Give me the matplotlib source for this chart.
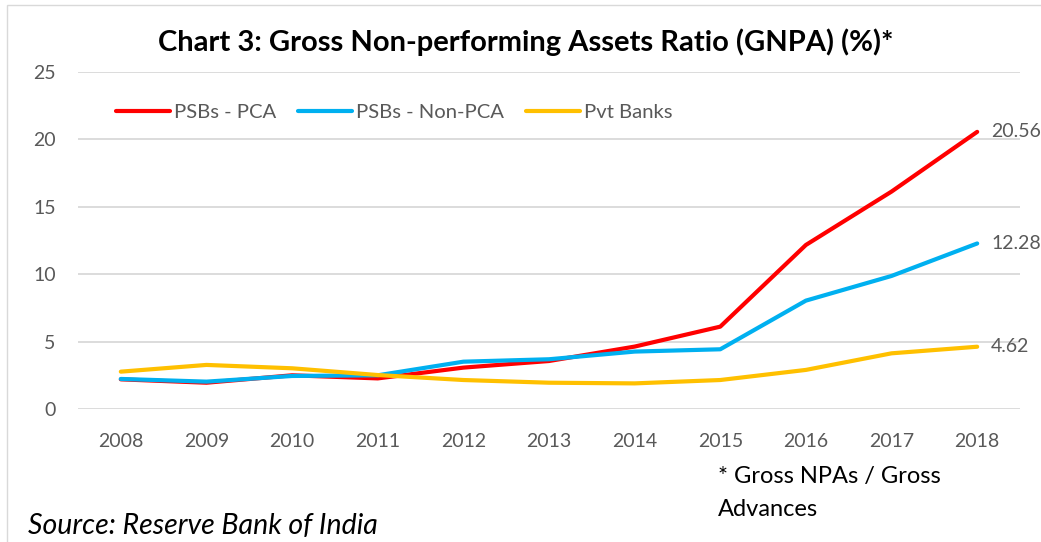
import numpy as np
import matplotlib.pyplot as plt
from matplotlib.patches import Rectangle

plt.rcParams['font.family'] = ['Lato', 'DejaVu Sans']

# dane
years = ['2008', '2009', '2010', '2011', '2012', '2013', '2014', '2015', '2016', '2017', '2018']
psb_pca = [2.2, 1.95, 2.5, 2.27, 3.07, 3.56, 4.63, 6.11, 12.17, 16.13, 20.56]
psb_non_pca = [2.23, 2.03, 2.45, 2.5, 3.51, 3.69, 4.26, 4.43, 8.04, 9.87, 12.28]
pvt_banks = [2.77, 3.27, 3.02, 2.52, 2.15, 1.95, 1.9, 2.15, 2.9, 4.13, 4.62]
end_labels = ['20.56', '12.28', '4.62']

grey = '#595959'

fig = plt.figure(figsize=(10.41, 5.42), dpi=100)
ax = fig.add_axes([78 / 1041, 1 - 409 / 542, (1020 - 78) / 1041, (409 - 72) / 542])

x = np.arange(len(years))
series = [(psb_pca, 'PSBs - PCA', '#FF0000'),
          (psb_non_pca, 'PSBs - Non-PCA', '#00B0F0'),
          (pvt_banks, 'Pvt Banks', '#FFC000')]
for (vals, name, col), lab in zip(series, end_labels):
    ax.plot(x, vals, color=col, lw=3, label=name, solid_capstyle='round')
    ax.annotate(lab, (x[-1], vals[-1]), xytext=(10, 0), textcoords='offset points',
                va='center', ha='left', fontsize=14, color=grey)

ax.set_xlim(-0.5, len(years) - 0.5)
ax.set_ylim(0, 25)
ax.set_yticks(np.arange(0, 26, 5))
ax.set_xticks(x)
ax.set_xticklabels(years)
ax.tick_params(axis='both', length=0, labelsize=14, colors=grey)
ax.tick_params(axis='y', pad=16)
ax.tick_params(axis='x', pad=17)
ax.grid(axis='y', color='#D9D9D9', lw=1.3)
ax.set_axisbelow(True)
for s in ax.spines.values():
    s.set_visible(False)

leg = ax.legend(loc='upper left', bbox_to_anchor=(0.021, 0.96), ncol=3, frameon=False,
                fontsize=14.6, handlelength=2.65, columnspacing=1.1, handletextpad=0.2)
for t in leg.get_texts():
    t.set_color(grey)

fig.text(0.505, 1 - 42 / 542, 'Chart 3: Gross Non-performing Assets Ratio (GNPA) (%)*',
         ha='center', va='center', fontsize=21, fontweight='bold', color='black')
fig.text(718 / 1041, 1 - 476 / 542, '* Gross NPAs / Gross', fontsize=17, color='black', va='center')
fig.text(718 / 1041, 1 - 509 / 542, 'Advances', fontsize=17, color='black', va='center')
fig.text(28 / 1041, 1 - 526 / 542, 'Source: Reserve Bank of India', fontsize=20.5, style='italic',
         color='black', va='center')

fig.patches.append(Rectangle((7 / 1041, -0.01), 1.1, 1 - 5 / 542 + 0.01, transform=fig.transFigure,
                             fill=False, edgecolor='#D9D9D9', lw=1))

fig.savefig('out.png', dpi=100)
